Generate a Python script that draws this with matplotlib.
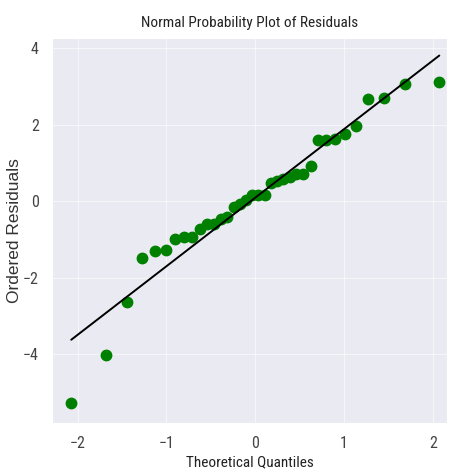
"""
Normal probability plot of residuals.
"""

import numpy as np
import matplotlib
matplotlib.use("Agg")
import matplotlib.pyplot as plt
import seaborn as sns

# theoretical quantiles (n = 36) and ordered residuals
theoretical_q = [
    -2.073, -1.682, -1.448, -1.274, -1.132, -1.010, -0.901, -0.802, -0.710,
    -0.624, -0.542, -0.464, -0.389, -0.315, -0.244, -0.173, -0.104, -0.035,
    0.035, 0.104, 0.173, 0.244, 0.315, 0.389, 0.464, 0.542, 0.624,
    0.710, 0.802, 0.901, 1.010, 1.132, 1.274, 1.448, 1.682, 2.073,
]
ordered_resid = [
    -5.27, -4.02, -2.64, -1.50, -1.31, -1.28, -0.98, -0.94, -0.94,
    -0.72, -0.61, -0.60, -0.46, -0.41, -0.16, -0.07, 0.03, 0.15,
    0.16, 0.17, 0.48, 0.53, 0.59, 0.62, 0.72, 0.72, 0.92,
    1.60, 1.61, 1.62, 1.75, 1.97, 2.66, 2.70, 3.05, 3.11,
]
x_ticks = [-2, -1, 0, 1, 2]
y_ticks = [-4, -2, 0, 2, 4]

sns.set_style("darkgrid")
plt.rcParams["font.family"] = ["Roboto Condensed", "DejaVu Sans"]

fig = plt.figure(figsize=(4.52, 4.71), dpi=100)
ax = fig.add_axes([0.115, 0.102, 0.874, 0.817])

x = np.array(theoretical_q)
y = np.array(ordered_resid)
slope, intercept = np.polyfit(x, y, 1)

ax.plot(x, y, "o", color="green", markersize=7.5)
ax.plot(x, slope * x + intercept, color="black", linewidth=1.4)

ax.set_xlim(-2.29, 2.16)
ax.set_ylim(-5.8, 4.26)
ax.set_xticks(x_ticks)
ax.set_yticks(y_ticks)
ax.tick_params(labelsize=11.5, colors="#444444", pad=6)
ax.grid(True, color="white", alpha=0.6)

ax.set_title("Normal Probability Plot of Residuals", fontsize=11, color="#222222", pad=8)
ax.set_xlabel("Theoretical Quantiles", fontsize=11, color="#222222", labelpad=3)
ax.set_ylabel("Ordered Residuals", fontsize=12.5, color="#333333",
              family=["Liberation Sans", "DejaVu Sans"])
ax.yaxis.set_label_coords(-0.075, 0.5)

fig.savefig("out.png", dpi=100)
plt.close(fig)
